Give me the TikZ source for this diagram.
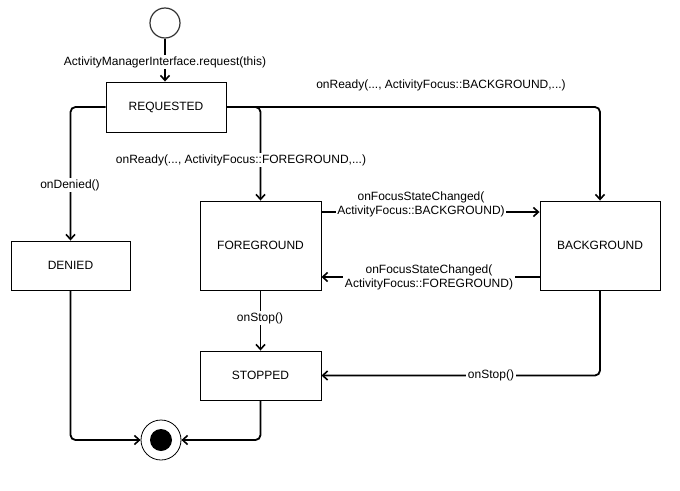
\documentclass[tikz,border=0pt]{standalone}
\usepackage{fontspec}
\setmainfont{Liberation Sans}
\usetikzlibrary{arrows.meta}

\tikzset{
  statebox/.style={draw=black, line width=0.9pt, rectangle, inner sep=0pt, fill=white},
  conn/.style={line width=1.8pt, rounded corners=5pt,
               -{Straight Barb[length=5pt,width=9pt,line width=1.6pt]}},
  lbl/.style={fill=white, inner sep=1.5pt, align=center, font=\fontsize{12}{14}\selectfont},
  txt/.style={font=\fontsize{12}{14}\selectfont}
}

\begin{document}
\begin{tikzpicture}[x=1pt, y=-1pt]
  \useasboundingbox (0,0) rectangle (680,490);

  % initial and final pseudo-states
  \node[circle, draw=black!80, line width=1.2pt, minimum size=30pt, inner sep=0pt] (start) at (165,23) {};
  \node[circle, draw=black, line width=0.8pt, minimum size=40pt, inner sep=0pt, fill=white] (end) at (161,440) {};
  \fill[black] (end.center) circle (11pt);

  % states
  \node[statebox, txt, minimum width=120pt, minimum height=50pt] (req) at (166,107) {REQUESTED};
  \node[statebox, txt, minimum width=119pt, minimum height=49pt] (denied) at (70.5,265.5) {DENIED};
  \node[statebox, txt, minimum width=121pt, minimum height=89pt] (fg) at (260.5,245.5) {FOREGROUND};
  \node[statebox, txt, minimum width=120pt, minimum height=89pt] (bg) at (600,245.5) {BACKGROUND};
  \node[statebox, txt, minimum width=121pt, minimum height=49pt] (stopped) at (260.5,375.5) {STOPPED};

  % transitions
  \draw[conn] (start.south) -- (start.south |- req.north);
  \draw[conn] (req.west) -| (denied.north);
  \draw[conn] (req.east) -| (fg.north);
  \draw[conn] (req.east) -| (bg.north);
  \draw[conn] (fg.east |- 0,212) -- (bg.west |- 0,212);
  \draw[conn] (bg.west |- 0,277) -- (fg.east |- 0,277);
  \draw[conn] (fg.south) -- (stopped.north);
  \draw[conn] (bg.south) |- (stopped.east);
  \draw[conn] (denied.south) |- (end.west);
  \draw[conn] (stopped.south) |- (end.east);

  % transition labels
  \node[lbl] (l-request) at (165,62) {ActivityManagerInterface.request(this)};
  \node[lbl] (l-denied) at (70,185) {onDenied()};
  \node[lbl] (l-readyfg) at (241,160) {onReady(..., ActivityFocus::FOREGROUND,...)};
  \node[lbl] (l-readybg) at (441,85) {onReady(..., ActivityFocus::BACKGROUND,...)};
  \node[lbl] (l-tobg) at (421,204) {onFocusStateChanged(\\ActivityFocus::BACKGROUND)};
  \node[lbl] (l-tofg) at (429,277) {onFocusStateChanged(\\ActivityFocus::FOREGROUND)};
  \node[lbl] (l-stopfg) at (260,318) {onStop()};
  \node[lbl] (l-stopbg) at (491,375) {onStop()};
\end{tikzpicture}
\end{document}
